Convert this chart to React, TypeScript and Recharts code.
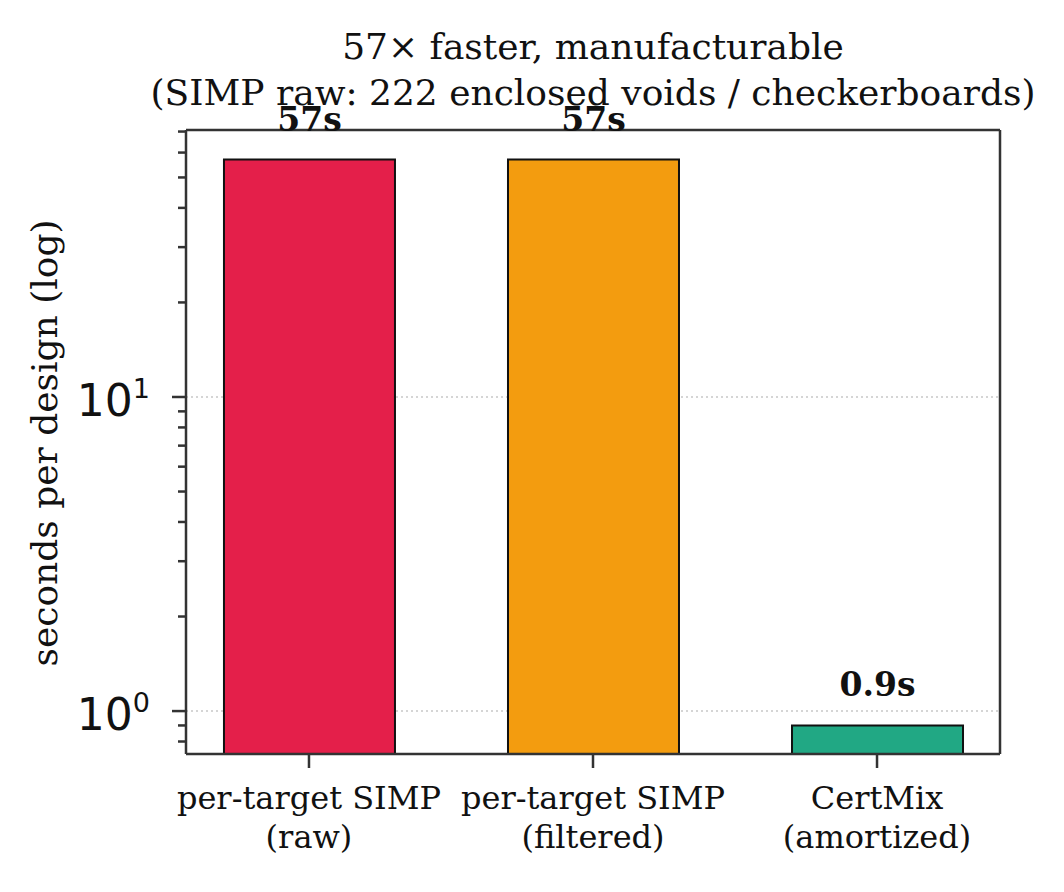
import { BarChart, Bar, XAxis, YAxis, CartesianGrid, Cell, LabelList, ReferenceLine } from 'recharts';

const categoryLines = [
  ['per-target SIMP', '(raw)'],
  ['per-target SIMP', '(filtered)'],
  ['CertMix', '(amortized)'],
];
const secondsPerDesign = [57, 57, 0.9];
const barLabels = ['57s', '57s', '0.9s'];
const barColors = ['#E41F4A', '#F39C0F', '#21A884'];
const majorTicks = [1, 10];
const yTicks = [0.8, 0.9, 1, 2, 3, 4, 5, 6, 7, 8, 9, 10, 20, 30, 40, 50, 60, 70];
const titleLines = ['57× faster, manufacturable', '(SIMP raw: 222 enclosed voids / checkerboards)'];

const FONT = '"DejaVu Serif", serif';
const MATH_FONT = '"DejaVu Sans", sans-serif';
const PLOT_LEFT = 186;
const PLOT_BOTTOM = 754;
const SPINE = '#333';
const X_DOMAIN = [-0.433, 2.433];
const Y_DOMAIN = [0.73, 70.8];

const data = secondsPerDesign.map((v, i) => ({ x: i, seconds: v, label: barLabels[i] }));

const YTick = (props: any) => {
  const { y, payload } = props;
  const v = payload.value;
  const major = majorTicks.includes(v);
  const len = major ? 14 : 8;
  return (
    <g>
      <line x1={PLOT_LEFT} x2={PLOT_LEFT - len} y1={y} y2={y} stroke={SPINE} strokeWidth={2.5} />
      {major && (
        <text x={150} y={y + 19} textAnchor="end" fontFamily={MATH_FONT} fontSize={44} fill="#111">
          <tspan>10</tspan>
          <tspan dy={-18} fontSize={27}>{Math.round(Math.log10(v))}</tspan>
        </text>
      )}
    </g>
  );
};

const XTick = (props: any) => {
  const { x, payload } = props;
  const lines = categoryLines[payload.value] || [];
  return (
    <g>
      <line x1={x} x2={x} y1={PLOT_BOTTOM} y2={PLOT_BOTTOM + 14} stroke={SPINE} strokeWidth={2.5} />
      {lines.map((t, i) => (
        <text key={i} x={x} y={809 + i * 39} textAnchor="middle" fontFamily={FONT} fontSize={32} fill="#111">
          {t}
        </text>
      ))}
    </g>
  );
};

const BarValue = (props: any) => {
  const { x, y, width, value } = props;
  return (
    <text x={x + width / 2} y={y - 29} textAnchor="middle" fontFamily={FONT} fontSize={33} fontWeight="bold" fill="#111">
      {value}
    </text>
  );
};

const Title = () => (
  <g>
    {titleLines.map((t, i) => (
      <text key={i} x={593} y={59 + i * 46} textAnchor="middle" fontFamily={FONT} fontSize={36} fill="#111">
        {t}
      </text>
    ))}
  </g>
);

export default function App() {
  return (
    <div style={{ position: 'absolute', left: 0, top: 0, width: 1064, height: 892, background: '#fff' }}>
      <BarChart width={1064} height={892} data={data} margin={{ top: 130, right: 64, bottom: 0, left: 106 }}>
        <CartesianGrid xAxisId="b" yAxisId="g" vertical={false} stroke="#c8c8c8" strokeWidth={1.5} strokeDasharray="2 3" />
        <XAxis
          xAxisId="b"
          dataKey="x"
          type="number"
          domain={X_DOMAIN}
          ticks={[0, 1, 2]}
          height={138}
          tickLine={false}
          axisLine={{ stroke: SPINE, strokeWidth: 2.5 }}
          tick={<XTick />}
          allowDataOverflow
        />
        <YAxis
          yAxisId="l"
          scale="log"
          type="number"
          domain={Y_DOMAIN}
          allowDataOverflow
          ticks={yTicks}
          interval={0}
          width={80}
          tickLine={false}
          axisLine={{ stroke: SPINE, strokeWidth: 2.5 }}
          tick={<YTick />}
          label={{
            value: 'seconds per design (log)',
            position: 'insideLeft',
            content: () => (
              <text x={57} y={443} transform="rotate(-90 57 443)" textAnchor="middle" fontFamily={FONT} fontSize={36} fill="#111">
                seconds per design (log)
              </text>
            ),
          }}
        />
        <YAxis yAxisId="g" orientation="right" width={0} hide scale="log" type="number" domain={Y_DOMAIN} allowDataOverflow ticks={majorTicks} interval={0} />
        <Bar dataKey="seconds" xAxisId="b" yAxisId="l" barSize={171} stroke="#111" strokeWidth={2} isAnimationActive={false}>
          {data.map((d, i) => (
            <Cell key={i} fill={barColors[i]} />
          ))}
          <LabelList dataKey="label" content={<BarValue />} />
        </Bar>
        <ReferenceLine
          xAxisId="b"
          yAxisId="l"
          y={Y_DOMAIN[1]}
          stroke={SPINE}
          strokeWidth={2.5}
          label={{ content: () => <Title /> }}
        />
        <ReferenceLine xAxisId="b" yAxisId="l" x={X_DOMAIN[1]} stroke={SPINE} strokeWidth={2.5} />
      </BarChart>
    </div>
  );
}
